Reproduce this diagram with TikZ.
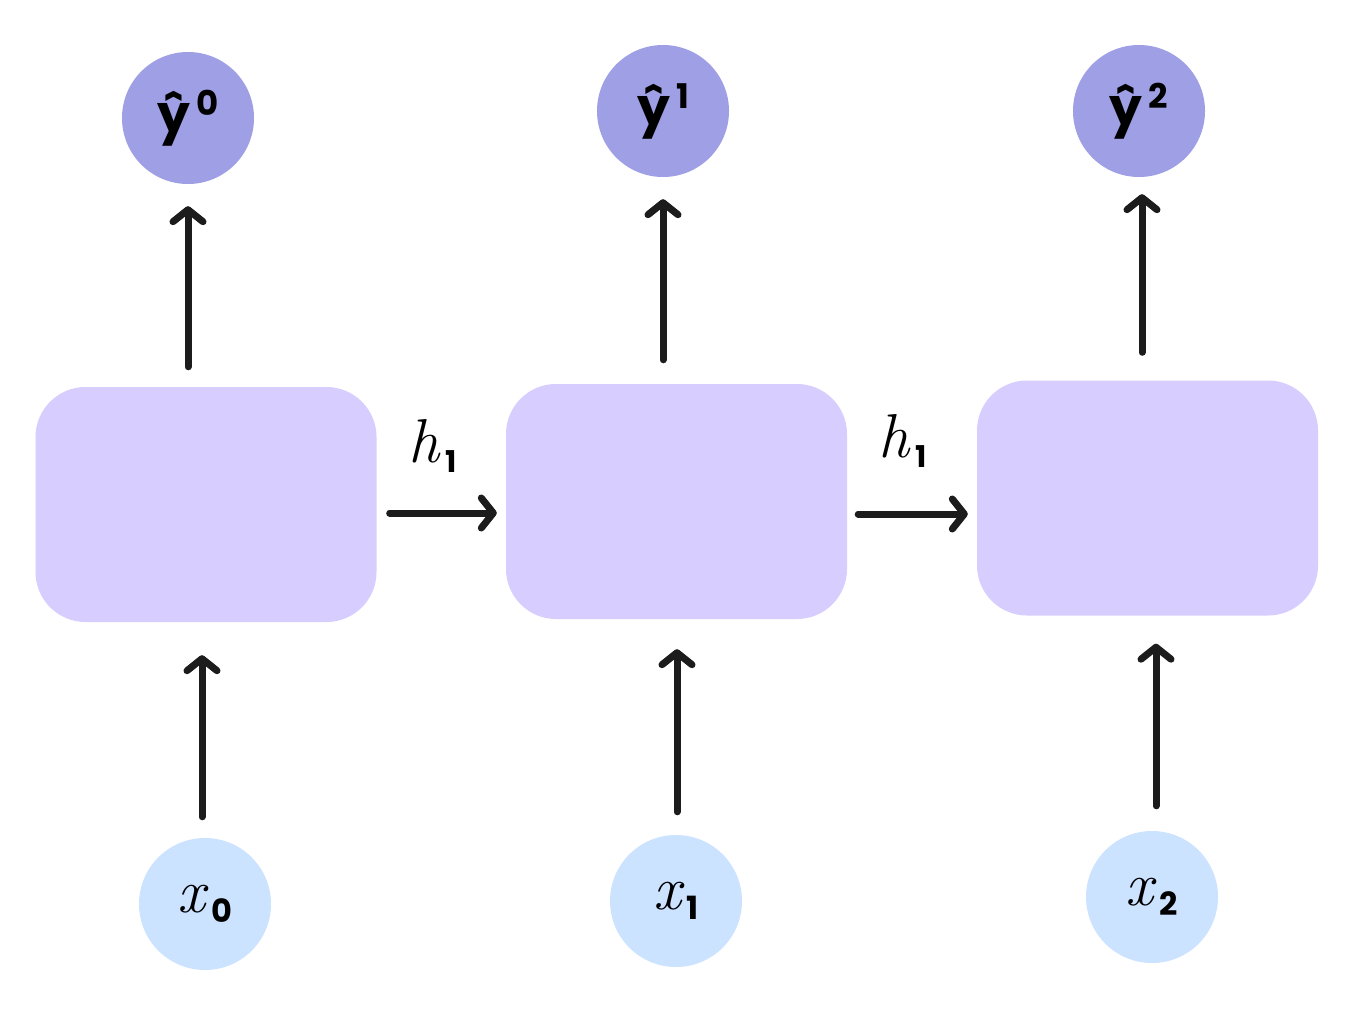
\documentclass[tikz,border=0pt]{standalone}
\usepackage{fontspec}
\newfontfamily\pop{Poppins}
\usetikzlibrary{arrows.meta}
\definecolor{ycol}{HTML}{9E9FE4}
\definecolor{boxcol}{HTML}{D7CEFF}
\definecolor{xcol}{HTML}{CCE3FF}
\definecolor{ink}{HTML}{1C1C1C}
\newcommand{\subnum}[3][30]{\raisebox{#2}{\pop\upshape\bfseries\fontsize{#1}{#1}\selectfont #3}}
\begin{document}
\begin{tikzpicture}[x=1pt,y=-1pt,
  cell/.style={fill=boxcol,draw=none,rounded corners=50pt,minimum width=341pt,minimum height=235pt,inner sep=0pt},
  ynode/.style={circle,fill=ycol,minimum size=132pt,inner sep=0pt,font=\pop\bfseries\fontsize{52}{52}\selectfont},
  xnode/.style={circle,fill=xcol,minimum size=132pt,inner sep=0pt,font=\itshape\fontsize{62}{62}\selectfont},
  arr/.style={draw=ink,line width=7pt,line cap=round,-{Straight Barb[length=12pt,width=30pt,line cap=round,line join=round]}},
  lbl/.style={inner sep=0pt,font=\itshape\fontsize{62}{62}\selectfont}
]
\useasboundingbox (0,0) rectangle (1364,1025);
\fill[white] (0,0) rectangle (1364,1025);
% cells
\node[cell] (b1) at (206,504.5) {};
\node[cell] (b2) at (676.5,501.5) {};
\node[cell] (b3) at (1147.5,498) {};
% outputs
\node[ynode] (y0) at (188,118) {ŷ\hspace{6pt}\subnum[34]{17pt}{0}};
\node[ynode] (y1) at (663,111) {ŷ\hspace{6pt}\subnum[34]{17pt}{1}};
\node[ynode] (y2) at (1139,111) {ŷ\hspace{6pt}\subnum[34]{17pt}{2}};
% inputs
\node[xnode] (x0) at (205,904) {x\hspace{6pt}\subnum[32]{-10pt}{0}};
\node[xnode] (x1) at (676,901) {x\hspace{6pt}\subnum[32]{-10pt}{1}};
\node[xnode] (x2) at (1152,897) {x\hspace{6pt}\subnum[32]{-10pt}{2}};
% vertical arrows up
\draw[arr,shorten <=20pt,shorten >=22pt] (y0 |- b1.north) -- (y0.south);
\draw[arr,shorten <=24pt,shorten >=22pt] (y1 |- b2.north) -- (y1.south);
\draw[arr,shorten <=28pt,shorten >=17pt] ([xshift=3pt]y2.south |- b3.north) -- ([xshift=3pt]y2.south);
% input arrows
\draw[arr,shorten <=21pt,shorten >=33pt] ([xshift=-3pt]x0.north) -- ([xshift=-3pt]x0.north |- b1.south);
\draw[arr,shorten <=23pt,shorten >=30pt] ([xshift=1pt]x1.north) -- ([xshift=1pt]x1.north |- b2.south);
\draw[arr,shorten <=25pt,shorten >=28pt] ([xshift=4pt]x2.north) -- ([xshift=4pt]x2.north |- b3.south);
% recurrent arrows
\draw[arr,shorten <=13pt,shorten >=9pt] ([yshift=-8.5pt]b1.east) -- ([yshift=-8.5pt]b1.east -| b2.west);
\draw[arr,shorten <=11pt,shorten >=9pt] ([yshift=-12.5pt]b2.east) -- ([yshift=-12.5pt]b2.east -| b3.west);
% labels
\node[lbl] (h1) at (433,446) {h\hspace{6pt}\subnum{-10pt}{1}};
\node[lbl] (h2) at (903,441) {h\hspace{6pt}\subnum{-10pt}{1}};
\end{tikzpicture}
\end{document}
